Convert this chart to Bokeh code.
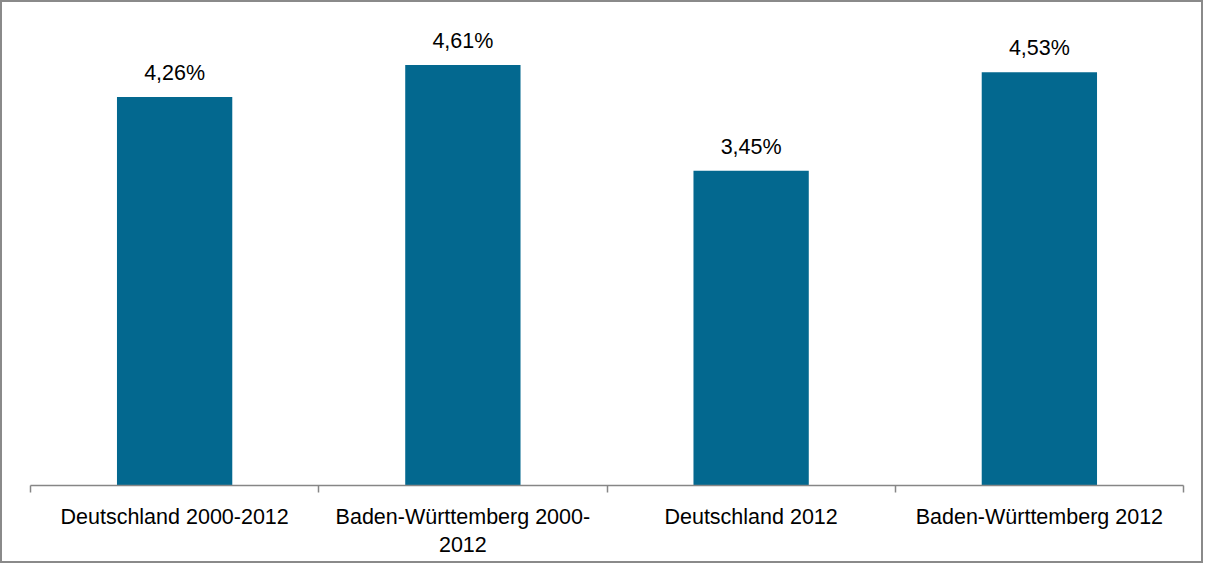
from bokeh.plotting import figure
from bokeh.models import FixedTicker, Range1d, ColumnDataSource
from bokeh.embed import file_html
from bokeh.resources import INLINE
from bokeh.core.properties import value

categories = ["Deutschland 2000-2012", "Baden-Württemberg 2000-\n2012", "Deutschland 2012", "Baden-Württemberg 2012"]
values = [4.26, 4.61, 3.45, 4.53]
labels = [f"{v:.2f}".replace(".", ",") + "%" for v in values]

FONT = "Liberation Sans"
BAR = "#03688f"

centers = [i + 0.5 for i in range(len(categories))]
bounds = [float(i) for i in range(len(categories) + 1)]

src = ColumnDataSource(dict(x=centers, top=values, label=labels))

p = figure(width=1203, height=563, output_backend="svg", toolbar_location=None,
           x_range=Range1d(0, len(categories)), y_range=Range1d(0, 5),
           min_border_left=28, min_border_right=22, min_border_top=27, min_border_bottom=80)
p.styles = {"border": "2px solid #8a8a8a", "box-sizing": "border-box"}
p.outline_line_color = None
p.xgrid.visible = False
p.ygrid.visible = False
p.yaxis.visible = False

p.vbar(x="x", top="top", width=0.4, bottom=0, source=src, fill_color=BAR, line_color=None)
p.text(x="x", y="top", text="label", source=src, text_align="center", text_baseline="alphabetic",
       y_offset=-24, text_font=value(FONT), text_font_size="21.5px", text_color="#000000")

ax = p.xaxis[0]
ax.ticker = FixedTicker(ticks=centers, minor_ticks=bounds)
ax.major_label_overrides = {c: lab for c, lab in zip(centers, categories)}
ax.major_tick_out = 0
ax.major_tick_in = 0
ax.minor_tick_out = 7
ax.minor_tick_in = 0
ax.minor_tick_line_color = "#868686"
ax.minor_tick_line_width = 1.5
ax.axis_line_color = "#868686"
ax.axis_line_width = 1.5
ax.major_label_standoff = 12
ax.major_label_text_font = FONT
ax.major_label_text_font_size = "21.5px"
ax.major_label_text_color = "#000000"
ax.major_label_orientation = "horizontal"

open("out.html", "w").write(file_html(p, INLINE))
